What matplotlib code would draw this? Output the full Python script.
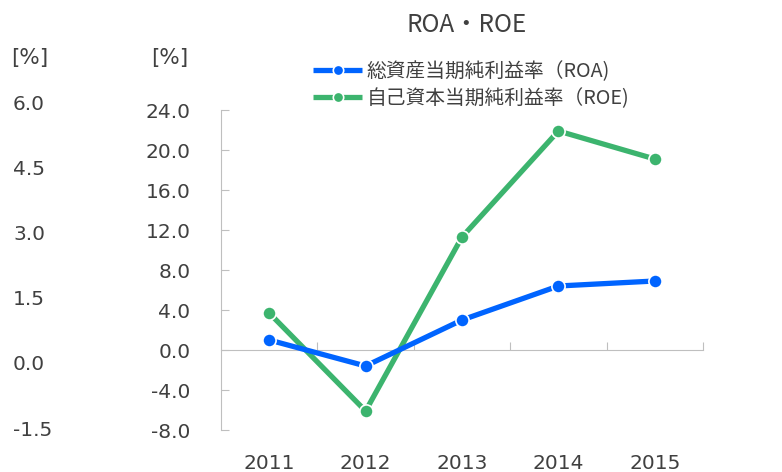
import matplotlib
matplotlib.use('Agg')
import matplotlib.pyplot as plt

# data
years = ['2011', '2012', '2013', '2014', '2015']
roa = [1.0, -1.6, 3.0, 6.4, 6.9]
roe = [3.7, -6.1, 11.3, 21.9, 19.1]
roa_label = '総資産当期純利益率（ROA)'
roe_label = '自己資本当期純利益率（ROE)'
left_ticks = [-8, -4, 0, 4, 8, 12, 16, 20, 24]
outer_ticks = [-1.5, 0.0, 1.5, 3.0, 4.5, 6.0]

W, H = 782, 472
text_col = '#404040'
axis_col = '#bfbfbf'
blue = '#0064ff'
green = '#3cb46e'
jp_font = ['Noto Sans CJK JP', 'DejaVu Sans']

fig = plt.figure(figsize=(W / 100, H / 100), dpi=100)
ax = fig.add_axes([221 / W, (H - 430) / H, (703 - 221) / W, 320 / H])

x = list(range(len(years)))
line_kw = dict(lw=3.8, marker='o', ms=9.5, mec='white', mew=1.2, solid_capstyle='butt')
ax.plot(x, roa, color=blue, label=roa_label, zorder=4, **line_kw)
ax.plot(x, roe, color=green, label=roe_label, zorder=3, **line_kw)

ax.set_xlim(-0.5, 4.5)
ax.set_ylim(-8, 24)
ax.set_yticks(left_ticks)
ax.set_yticklabels([f'{v:.1f}' for v in left_ticks])
ax.tick_params(axis='y', direction='in', length=6, color=axis_col,
               labelsize=14.5, labelcolor=text_col, pad=22)

for s in ['top', 'right', 'bottom']:
    ax.spines[s].set_visible(False)
ax.spines['left'].set_color(axis_col)

# year labels at the bottom
ax.set_xticks(x)
ax.set_xticklabels(years)
ax.tick_params(axis='x', length=0, labelsize=14.5, labelcolor=text_col, pad=17)

# zero line with category boundary ticks
zero = ax.secondary_xaxis(8 / 32)
zero.set_xticks([0.5, 1.5, 2.5, 3.5, 4.5])
zero.set_xticklabels([])
zero.tick_params(direction='in', length=6, color=axis_col)
zero.spines['bottom'].set_color(axis_col)

# outer left scale
ax3 = fig.add_axes([13 / W, (H - 428) / H, 0.0001, 326 / H])
ax3.set_ylim(-1.5, 6.0)
ax3.set_yticks(outer_ticks)
ax3.set_yticklabels([f'{v:.1f}' for v in outer_ticks])
ax3.yaxis.tick_right()
ax3.tick_params(axis='y', length=0, pad=0, labelsize=14.5, labelcolor=text_col)
ax3.set_xticks([])
for s in ax3.spines.values():
    s.set_visible(False)
ax3.patch.set_visible(False)

fig.text(11 / W, 1 - 58 / H, '[%]', fontsize=15.5, color=text_col, va='center', ha='left')
fig.text(188 / W, 1 - 58 / H, '[%]', fontsize=15.5, color=text_col, va='center', ha='right')

fig.text(467 / W, 1 - 25 / H, 'ROA・ROE', fontsize=17.5, color=text_col,
         ha='center', va='center', family=jp_font)

leg = fig.legend(loc='upper left', bbox_to_anchor=(313 / W, 1 - 61 / H), frameon=False,
                 prop={'family': jp_font, 'size': 14.2}, labelcolor=text_col,
                 handlelength=2.5, handletextpad=0.2, labelspacing=0.3,
                 borderpad=0, borderaxespad=0, numpoints=1)
for h in leg.legend_handles:
    h.set_markersize(7.5)

fig.savefig('out.png', dpi=100)
